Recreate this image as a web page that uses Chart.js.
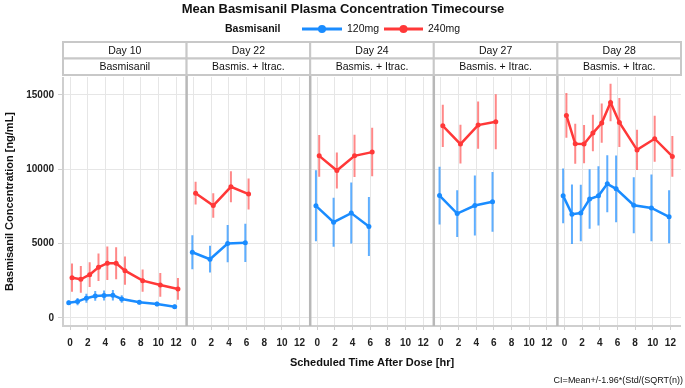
<!DOCTYPE html>
<html>
<head>
<meta charset="utf-8">
<script src="https://cdn.jsdelivr.net/npm/chart.js@4"></script>
<style>
html,body{margin:0;padding:0;background:#fff;}
#wrap{width:685px;height:388px;position:relative;}
</style>
</head>
<body>
<div id="wrap"><canvas id="c" width="685" height="388"></canvas></div>
<script>
// ---------------- data ----------------
const chartTitle = 'Mean Basmisanil Plasma Concentration Timecourse';
const legendTitle = 'Basmisanil';
const seriesNames = ['120mg', '240mg'];
const days = ['Day 10', 'Day 22', 'Day 24', 'Day 27', 'Day 28'];
const treatments = ['Basmisanil', 'Basmis. + Itrac.', 'Basmis. + Itrac.', 'Basmis. + Itrac.', 'Basmis. + Itrac.'];
const timeTicks = [0, 2, 4, 6, 8, 10, 12];
const yTicks = [0, 5000, 10000, 15000];
const footnote = 'CI=Mean+/-1.96*(Std/(SQRT(n))';

const timesFull = [0, 1, 2, 3, 4, 5, 6, 8, 10, 12];
const timesShort = [0, 2, 4, 6];
const panelTimes = [timesFull, timesShort, timesShort, timesShort, timesFull];

// 120 mg means and CI half-widths per panel
const mean120 = [
  [1030, 1100, 1330, 1480, 1510, 1530, 1280, 1050, 940, 750],
  [4420, 3950, 5000, 5050],
  [7540, 6440, 7050, 6150],
  [8230, 7020, 7560, 7810],
  [8210, 6980, 7050, 7990, 8210, 9020, 8680, 7580, 7400, 6800]
];
const ci120 = [
  [150, 250, 300, 330, 330, 350, 250, 150, 150, 150],
  [1140, 900, 1250, 1280],
  [2390, 1650, 2050, 1990],
  [1940, 1570, 2010, 2010],
  [1840, 2000, 1900, 2000, 1990, 1920, 2250, 1880, 2250, 1780]
];
// 240 mg means and CI half-widths per panel
const mean240 = [
  [2710, 2600, 2910, 3410, 3680, 3680, 3180, 2510, 2220, 1950],
  [8390, 7560, 8820, 8330],
  [10900, 9910, 10900, 11150],
  [12920, 11690, 12970, 13190],
  [13620, 11710, 11690, 12430, 13100, 14490, 13140, 11300, 12050, 10860]
];
const ci240 = [
  [950, 900, 830, 920, 1120, 1080, 950, 750, 800, 730],
  [760, 820, 1040, 1040],
  [1400, 1210, 1420, 1630],
  [1420, 1300, 1590, 1850],
  [1510, 1350, 1290, 1230, 1320, 1260, 1650, 1350, 1540, 1370]
];

// ---------------- layout constants ----------------
const PANEL = 14;      // hours of x-range per facet panel
const XMIN = -0.8;
const DODGE = [-0.15, 0.22];
const COLORS = ['#1a8cff', '#ff3838'];
const BAR_COLORS = ['rgba(26,140,255,0.7)', 'rgba(255,56,56,0.6)'];
const FONT = '"Liberation Sans", Arial, sans-serif';

function meanPoints(means, s) {
  const pts = [];
  means.forEach((arr, p) => {
    arr.forEach((v, i) => pts.push({x: p * PANEL + panelTimes[p][i] + DODGE[s], y: v}));
    pts.push({x: p * PANEL + PANEL - 1, y: null});
  });
  return pts;
}
function barPoints(means, cis, s) {
  const pts = [];
  means.forEach((arr, p) => {
    arr.forEach((v, i) => {
      const x = p * PANEL + panelTimes[p][i] + DODGE[s];
      pts.push({x: x, y: v - cis[p][i]});
      pts.push({x: x, y: v + cis[p][i]});
      pts.push({x: x, y: null});
    });
  });
  return pts;
}

const datasets = [];
[[mean120, ci120], [mean240, ci240]].forEach((pair, s) => {
  datasets.push({
    label: seriesNames[s] + ' CI',
    data: barPoints(pair[0], pair[1], s),
    borderColor: BAR_COLORS[s],
    borderWidth: 2,
    pointRadius: 0,
    spanGaps: false,
    order: 3 - s
  });
});
[[mean120, ci120], [mean240, ci240]].forEach((pair, s) => {
  datasets.push({
    label: seriesNames[s],
    data: meanPoints(pair[0], s),
    borderColor: COLORS[s],
    backgroundColor: COLORS[s],
    borderWidth: 2.5,
    pointRadius: 2.5,
    pointBorderWidth: 0,
    spanGaps: false,
    order: 1 - s * 0.5
  });
});

// ---------------- custom drawing plugin ----------------
const facetPlugin = {
  id: 'facets',
  afterDraw(chart) {
    const ctx = chart.ctx;
    const xs = chart.scales.x;
    const a = chart.chartArea;
    ctx.save();
    // plot border (left/bottom)
    ctx.strokeStyle = '#cfcfcf';
    ctx.lineWidth = 2;
    ctx.beginPath();
    ctx.moveTo(a.left, a.top);
    ctx.lineTo(a.left, a.bottom);
    ctx.lineTo(a.right, a.bottom);
    ctx.stroke();
    // panel separators
    ctx.strokeStyle = '#b8b8b8';
    ctx.lineWidth = 2.5;
    for (let p = 1; p < days.length; p++) {
      const x = xs.getPixelForValue(p * PANEL + XMIN);
      ctx.beginPath();
      ctx.moveTo(x, 42);
      ctx.lineTo(x, a.bottom);
      ctx.stroke();
    }
    // strips
    const rows = [[42, 58.5, days], [58.5, 75, treatments]];
    ctx.font = '10.5px ' + FONT;
    ctx.textAlign = 'center';
    ctx.textBaseline = 'middle';
    days.forEach((d, p) => {
      const x0 = xs.getPixelForValue(p * PANEL + XMIN);
      const x1 = xs.getPixelForValue((p + 1) * PANEL + XMIN);
      rows.forEach(r => {
        ctx.fillStyle = '#ffffff';
        ctx.fillRect(x0, r[0], x1 - x0, r[1] - r[0]);
        ctx.strokeStyle = '#c8c8c8';
        ctx.lineWidth = 2;
        ctx.strokeRect(x0, r[0], x1 - x0, r[1] - r[0]);
        ctx.fillStyle = '#111';
        ctx.fillText(r[2][p], (x0 + x1) / 2, (r[0] + r[1]) / 2 + 0.5);
      });
    });
    // title
    ctx.fillStyle = '#111';
    ctx.font = 'bold 13px ' + FONT;
    ctx.fillText(chartTitle, 343, 9);
    // legend
    ctx.font = 'bold 10.5px ' + FONT;
    ctx.textAlign = 'left';
    ctx.fillText(legendTitle, 225, 29);
    const legX = [[302, 342, 347], [384, 423, 428]];
    ctx.font = '10.5px ' + FONT;
    seriesNames.forEach((n, s) => {
      ctx.strokeStyle = COLORS[s];
      ctx.fillStyle = COLORS[s];
      ctx.lineWidth = 3;
      ctx.beginPath();
      ctx.moveTo(legX[s][0], 29);
      ctx.lineTo(legX[s][1], 29);
      ctx.stroke();
      ctx.beginPath();
      ctx.arc((legX[s][0] + legX[s][1]) / 2, 29, 4, 0, Math.PI * 2);
      ctx.fill();
      ctx.fillStyle = '#111';
      ctx.fillText(n, legX[s][2], 29);
    });
    // footnote
    ctx.font = '9px ' + FONT;
    ctx.textAlign = 'right';
    ctx.fillText(footnote, 683, 381);
    ctx.restore();
  }
};

new Chart(document.getElementById('c'), {
  type: 'line',
  data: {datasets: datasets},
  plugins: [facetPlugin],
  options: {
    responsive: false,
    animation: false,
    layout: {padding: {top: 77, right: 2, left: 0, bottom: 18}},
    plugins: {legend: {display: false}, title: {display: false}, tooltip: {enabled: false}},
    scales: {
      x: {
        type: 'linear',
        min: XMIN,
        max: PANEL * days.length + XMIN,
        afterBuildTicks(scale) {
          const t = [];
          days.forEach((d, p) => timeTicks.forEach(v => t.push({value: p * PANEL + v})));
          scale.ticks = t;
        },
        afterFit(scale) { scale.height = 44; },
        ticks: {
          autoSkip: false,
          maxRotation: 0,
          padding: 7,
          color: '#222',
          font: {family: FONT, size: 10, weight: 'bold'},
          callback(v) { return String(Math.round(v - Math.floor((v - XMIN) / PANEL) * PANEL)); }
        },
        grid: {color: '#e6e6e6', lineWidth: 1, tickLength: 4, tickColor: '#cfcfcf'},
        border: {display: false},
        title: {
          display: true,
          text: 'Scheduled Time After Dose [hr]',
          color: '#111',
          font: {family: FONT, size: 11, weight: 'bold'},
          padding: {top: 4, bottom: 0}
        }
      },
      y: {
        type: 'linear',
        min: -540,
        max: 16200,
        afterBuildTicks(scale) { scale.ticks = yTicks.map(v => ({value: v})); },
        afterFit(scale) { scale.width = 63; },
        ticks: {
          padding: 4,
          color: '#222',
          font: {family: FONT, size: 10, weight: 'bold'},
          callback(v) { return String(v); }
        },
        grid: {color: '#e6e6e6', lineWidth: 1, tickLength: 5, tickColor: '#cfcfcf'},
        border: {display: false},
        title: {
          display: true,
          text: 'Basmisanil Concentration [ng/mL]',
          color: '#111',
          font: {family: FONT, size: 11, weight: 'bold'},
          padding: {top: 3, bottom: 0}
        }
      }
    }
  }
});
</script>
</body>
</html>
